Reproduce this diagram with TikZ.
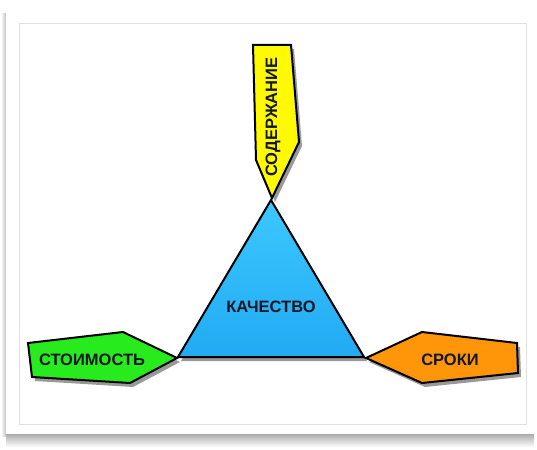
\documentclass[tikz,border=0pt]{standalone}
\usepackage{fontspec}
\setmainfont{Liberation Sans}
\usetikzlibrary{shadows}
\tikzset{>=latex}
\definecolor{triblue}{RGB}{34,170,242}
\definecolor{triblueup}{RGB}{60,200,255}
\definecolor{scopeyellow}{RGB}{255,250,0}
\definecolor{costgreen}{RGB}{40,235,30}
\definecolor{timeorange}{RGB}{255,150,10}
\definecolor{labeltext}{RGB}{20,22,35}

\tikzset{
  piece/.style={draw=black, line width=2pt, line join=miter,
    drop shadow={shadow xshift=3pt, shadow yshift=-4pt, opacity=0.4, fill=black}},
  lbl/.style={font=\bfseries\fontsize{16.5}{18}\selectfont, text=labeltext, inner sep=0pt}
}

\begin{document}
\begin{tikzpicture}[x=1pt, y=-1pt]
\useasboundingbox (0,0) rectangle (537,449);
% frame
\fill[white] (0,0) rectangle (537,449);
\shade[left color=white, right color=black!25] (1,14) rectangle (6,436);
\shade[top color=black!35, bottom color=white] (6,433) rectangle (534,447);
\fill[white] (6,12) rectangle (534,434);
\draw[black!12, line width=1pt] (19,24) rectangle (526,424);

% triangle
\path[piece, top color=triblueup, bottom color=triblue] (271,200) -- (364,357) -- (178,357) -- cycle;
\node[lbl] (quality) at (271,307) {КАЧЕСТВО};

% pieces at the corners
\path[piece, fill=scopeyellow] (253,45) -- (291,45) -- (299,142) -- (272,198) -- (256,160) -- cycle;
\node[lbl, rotate=90] (scope) at (273,117) {СОДЕРЖАНИЕ};

\path[piece, fill=costgreen] (28,343) -- (123,332) -- (177,358) -- (130,383) -- (32,377) -- cycle;
\node[lbl] (cost) at (92,360) {СТОИМОСТЬ};

\path[piece, fill=timeorange] (366,358) -- (422,332) -- (517,343) -- (518,373) -- (422,383) -- cycle;
\node[lbl] (time) at (450,360) {СРОКИ};
\end{tikzpicture}
\end{document}
